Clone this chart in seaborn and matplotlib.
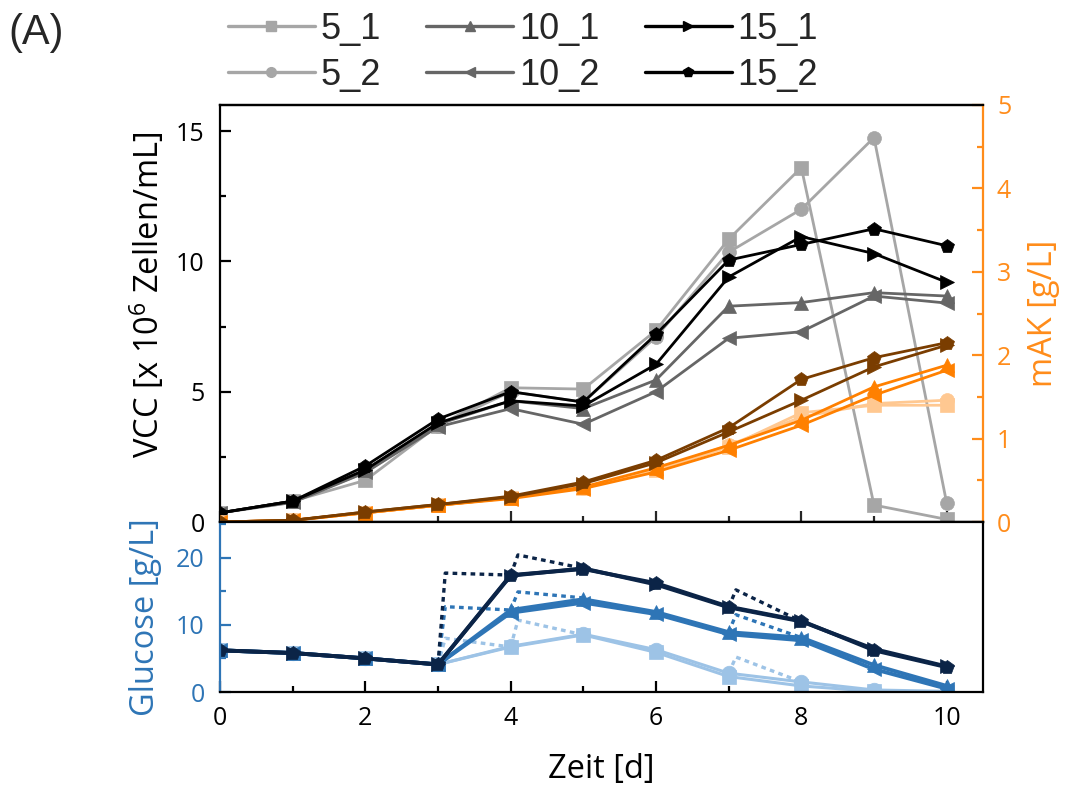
import numpy as np
import pandas as pd
import matplotlib
matplotlib.use("Agg")
import matplotlib.pyplot as plt
from matplotlib.ticker import MultipleLocator
from matplotlib.lines import Line2D
from matplotlib import font_manager
import seaborn as sns

# ---------------- data ----------------
days = [0, 1, 2, 3, 4, 5, 6, 7, 8, 9, 10]
series = ["5_1", "5_2", "10_1", "10_2", "15_1", "15_2"]

# VCC [x 10^6 cells/mL]
vcc_5_1 = [0.35, 0.8, 1.6, 3.7, 5.15, 5.1, 7.35, 10.85, 13.6, 0.65, 0.1]
vcc_5_2 = [0.35, 0.8, 1.9, 3.7, 5.0, 4.6, 7.1, 10.35, 12.0, 14.75, 0.73]
vcc_10_1 = [0.35, 0.8, 2.0, 3.75, 4.65, 4.35, 5.45, 8.28, 8.42, 8.8, 8.67]
vcc_10_2 = [0.35, 0.75, 1.9, 3.65, 4.35, 3.75, 5.0, 7.05, 7.3, 8.67, 8.4]
vcc_15_1 = [0.35, 0.8, 2.0, 3.8, 4.65, 4.45, 6.05, 9.4, 10.95, 10.3, 9.2]
vcc_15_2 = [0.35, 0.8, 2.15, 3.95, 5.0, 4.6, 7.2, 10.05, 10.65, 11.25, 10.6]

# mAK [g/L]
mak_5_1 = [0.0, 0.02, 0.11, 0.2, 0.29, 0.41, 0.62, 0.9, 1.31, 1.40, 1.40]
mak_5_2 = [0.0, 0.02, 0.11, 0.2, 0.29, 0.41, 0.63, 0.92, 1.26, 1.42, 1.46]
mak_10_1 = [0.0, 0.02, 0.11, 0.2, 0.29, 0.42, 0.65, 0.92, 1.22, 1.62, 1.88]
mak_10_2 = [0.0, 0.02, 0.11, 0.2, 0.28, 0.40, 0.60, 0.86, 1.16, 1.52, 1.82]
mak_15_1 = [0.0, 0.02, 0.12, 0.21, 0.30, 0.46, 0.71, 1.08, 1.46, 1.86, 2.12]
mak_15_2 = [0.0, 0.02, 0.12, 0.21, 0.31, 0.48, 0.74, 1.13, 1.71, 1.97, 2.15]

# Glucose [g/L]
glc_5_1 = [6.2, 5.8, 5.0, 4.1, 6.7, 8.5, 5.9, 2.3, 0.9, 0.1, 0.0]
glc_5_2 = [6.2, 5.8, 5.0, 4.1, 6.8, 8.6, 6.3, 2.8, 1.5, 0.3, 0.1]
glc_10_1 = [6.2, 5.8, 5.0, 4.1, 12.2, 13.8, 11.9, 8.9, 8.1, 4.0, 0.9]
glc_10_2 = [6.2, 5.8, 5.0, 4.1, 11.8, 13.3, 11.6, 8.6, 7.7, 3.4, 0.5]
glc_15_1 = [6.2, 5.8, 5.0, 4.1, 17.3, 18.4, 16.0, 12.6, 10.5, 6.4, 3.8]
glc_15_2 = [6.2, 5.8, 5.0, 4.1, 17.4, 18.3, 16.2, 12.7, 10.6, 6.2, 3.7]

# glucose after feeding (dotted segments): start day, day after feed, end day
feed_seg_x = [[3, 3.1, 4], [4, 4.1, 5], [7, 7.1, 8]]
feed_5 = [[4.1, 8.0, 6.7], [6.7, 10.7, 8.5], [2.8, 5.2, 1.5]]
feed_10 = [[4.1, 12.7, 12.2], [12.2, 14.9, 14.0], [8.9, 11.5, 8.1]]
feed_15 = [[4.1, 17.7, 17.4], [17.4, 20.4, 18.4], [12.6, 15.2, 10.5]]

vcc = [vcc_5_1, vcc_5_2, vcc_10_1, vcc_10_2, vcc_15_1, vcc_15_2]
mak = [mak_5_1, mak_5_2, mak_10_1, mak_10_2, mak_15_1, mak_15_2]
glc = [glc_5_1, glc_5_2, glc_10_1, glc_10_2, glc_15_1, glc_15_2]
feeds = [feed_5, feed_10, feed_15]

# ---------------- styles ----------------
markers = ["s", "o", "^", "<", ">", "p"]
gray_cols = ["#a6a6a6", "#a6a6a6", "#666666", "#666666", "#000000", "#000000"]
orange_cols = ["#ffc891", "#ffc891", "#ff8000", "#ff8000", "#7a3d00", "#7a3d00"]
blue_cols = ["#9dc3e6", "#9dc3e6", "#2e75b6", "#2e75b6", "#0b2447", "#0b2447"]
glc_lw = [2.2, 2.2, 2.8, 2.8, 2.8, 2.8]
group_blue = ["#9dc3e6", "#2e75b6", "#0b2447"]
orange_axis = "#ff8c1a"
blue_axis = "#2e75b6"

sns.set_theme(style="ticks")
plt.rcParams["font.family"] = ["Open Sans", "DejaVu Sans"]
plt.rcParams["mathtext.default"] = "regular"

names = {f.name for f in font_manager.fontManager.ttflist}
leg_family = ["Liberation Sans Narrow"] if "Liberation Sans Narrow" in names else ["Liberation Sans"]

fig = plt.figure(figsize=(10.67, 7.87), dpi=100)
L, W = 220 / 1067, 763 / 1067
ax1 = fig.add_axes([L, 1 - 522 / 787, W, 417 / 787])
ax2 = ax1.twinx()
ax3 = fig.add_axes([L, 1 - 692 / 787, W, 170 / 787])


def draw(ax, y, color, marker, lw=2.0, ms=10):
    df = pd.DataFrame({"x": days, "y": y})
    sns.lineplot(data=df, x="x", y="y", ax=ax, color=color, marker=marker,
                 markersize=ms, markeredgecolor=color, markeredgewidth=0.5,
                 linewidth=lw, legend=False, estimator=None, sort=False)


# top: mAK (right axis)
for i in range(6):
    draw(ax2, mak[i], orange_cols[i], markers[i])
# top: VCC (left axis)
for i in range(6):
    draw(ax1, vcc[i], gray_cols[i], markers[i])

# bottom: glucose
for g in range(3):
    for seg_x, seg_y in zip(feed_seg_x, feeds[g]):
        dfs = pd.DataFrame({"x": seg_x, "y": seg_y})
        sns.lineplot(data=dfs, x="x", y="y", ax=ax3, color=group_blue[g],
                     linewidth=2.4, linestyle=(0, (1.4, 1.3)), legend=False,
                     estimator=None, sort=False)
for i in range(6):
    draw(ax3, glc[i], blue_cols[i], markers[i], lw=glc_lw[i], ms=10.5)

# ---------------- axes formatting ----------------
for ax in (ax1, ax2, ax3):
    ax.set_xlim(0, 10.5)
    ax.set_xlabel("")
    ax.set_ylabel("")
    for s in ax.spines.values():
        s.set_linewidth(1.6)
        s.set_color("black")

ax1.set_ylim(0, 16)
ax2.set_ylim(0, 5)
ax3.set_ylim(0, 25.3)

ax1.xaxis.set_major_locator(MultipleLocator(2))
ax1.xaxis.set_minor_locator(MultipleLocator(1))
ax3.xaxis.set_major_locator(MultipleLocator(2))
ax3.xaxis.set_minor_locator(MultipleLocator(1))
ax1.yaxis.set_major_locator(MultipleLocator(5))
ax1.yaxis.set_minor_locator(MultipleLocator(2.5))
ax2.yaxis.set_major_locator(MultipleLocator(1))
ax2.yaxis.set_minor_locator(MultipleLocator(0.5))
ax3.yaxis.set_major_locator(MultipleLocator(10))
ax3.yaxis.set_minor_locator(MultipleLocator(5))

tick_fs = 18
# ax1
ax1.tick_params(axis="x", which="both", direction="in", bottom=True, top=False,
                labelbottom=False, width=1.6)
ax1.tick_params(axis="x", which="major", length=8)
ax1.tick_params(axis="x", which="minor", length=4)
ax1.tick_params(axis="y", which="both", direction="in", left=True, right=False,
                labelsize=tick_fs, pad=11, width=1.6, colors="black")
ax1.tick_params(axis="y", which="major", length=8)
ax1.tick_params(axis="y", which="minor", length=4)
ax1.spines["right"].set_visible(False)

# ax2 (right, orange)
ax2.tick_params(axis="y", which="both", direction="in", right=True, left=False,
                labelsize=tick_fs, pad=10, width=1.6, colors=orange_axis)
ax2.tick_params(axis="y", which="major", length=8)
ax2.tick_params(axis="y", which="minor", length=4)
ax2.tick_params(axis="x", which="both", bottom=False, top=False, labelbottom=False)
ax2.spines["right"].set_color(orange_axis)
ax2.spines["left"].set_visible(False)

# ax3 (glucose)
ax3.tick_params(axis="x", which="both", direction="in", bottom=True, top=False,
                labelsize=tick_fs, pad=10, width=1.6, colors="black")
ax3.tick_params(axis="x", which="major", length=8)
ax3.tick_params(axis="x", which="minor", length=4)
ax3.tick_params(axis="y", which="both", direction="in", left=True, right=False,
                labelsize=tick_fs, pad=11, width=1.6, colors=blue_axis)
ax3.tick_params(axis="y", which="major", length=8)
ax3.tick_params(axis="y", which="minor", length=4)
ax3.spines["left"].set_color(blue_axis)

lab_fs = 23.5
ax1.set_ylabel("VCC [x 10$^{6}$ Zellen/mL]", fontsize=lab_fs, color="black")
ax1.yaxis.set_label_coords(-0.07, 0.545)
ax2.set_ylabel("mAK [g/L]", fontsize=lab_fs, color=orange_axis)
ax2.yaxis.set_label_coords(1.058, 0.5)
ax3.set_ylabel("Glucose [g/L]", fontsize=lab_fs, color=blue_axis)
ax3.yaxis.set_label_coords(-0.076, 0.44)
ax3.set_xlabel("Zeit [d]", fontsize=lab_fs, color="black", labelpad=16)

# ---------------- legend ----------------
handles = [Line2D([], [], color=gray_cols[i], marker=markers[i], markersize=7,
                  markeredgecolor=gray_cols[i], linewidth=2.4) for i in range(6)]
fig.legend(handles, series, ncol=3, loc="upper left",
           bbox_to_anchor=(228 / 1067, 1 - 12 / 787), frameon=False,
           prop={"family": leg_family, "size": 26}, handlelength=2.4,
           handletextpad=0.17, columnspacing=1.25, labelspacing=0.3,
           borderpad=0, borderaxespad=0)

fig.text(8 / 1067, 1 - 33 / 787, "(A)", fontsize=30, family=leg_family,
         va="center", ha="left")

fig.savefig("out.png", dpi=100)
